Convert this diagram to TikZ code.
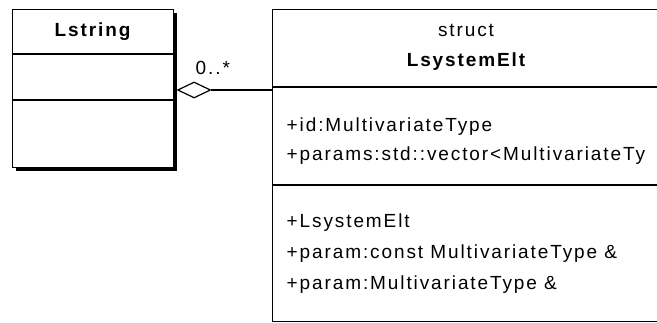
\documentclass[tikz,border=0pt]{standalone}
\usepackage{fontspec}
\setmainfont{Liberation Sans}[LetterSpace=10.0]
\usetikzlibrary{shapes.geometric}
\begin{document}
\begin{tikzpicture}[x=1pt,y=-1pt,line width=1.4pt,
  txt/.style={inner sep=0pt,anchor=base west,font=\fontsize{19}{22}\selectfont},
  ttl/.style={inner sep=0pt,anchor=base,font=\fontsize{19}{22}\selectfont},
  boxsty/.style={draw,fill=white,rectangle,inner sep=0pt,anchor=north west}]
\useasboundingbox (0,0) rectangle (657,323);
\clip (0,0) rectangle (657,323);
% Lstring class with shadow
\fill[black] (16,13) rectangle (177,171);
\node[boxsty,minimum width=161pt,minimum height=158pt] (lstring) at (12,9) {};
\draw (12,54) -- (173,54);
\draw (12,100) -- (173,100);
\node[ttl] (lname) at (92.5,37) {\bfseries Lstring};
% LsystemElt class
\node[boxsty,minimum width=388pt,minimum height=312pt] (lsys) at (272,9) {};
\draw (272,87) -- (660,87);
\draw (272,185) -- (660,185);
\node[ttl] (stereo) at (466,37) {struct};
\node[ttl] (sname) at (466,67) {\bfseries LsystemElt};
\node[txt] (a1) at (286,132) {+id:MultivariateType};
\node[txt] (a2) at (286,161) {+params:std::vector<MultivariateTy};
\node[txt] (m1) at (286,228) {+LsystemElt};
\node[txt] (m2) at (286,259) {+param:const MultivariateType \&};
\node[txt] (m3) at (286,290) {+param:MultivariateType \&};
% aggregation
\node[diamond,draw,fill=white,line width=1.2pt,inner sep=0pt,minimum width=33pt,minimum height=16pt,anchor=west] (agg) at (177,90) {};
\draw[line width=1.2pt] (agg.east) -- (agg.east -| lsys.west);
\node[txt] (mult) at (195,75) {0..*};
\end{tikzpicture}
\end{document}
